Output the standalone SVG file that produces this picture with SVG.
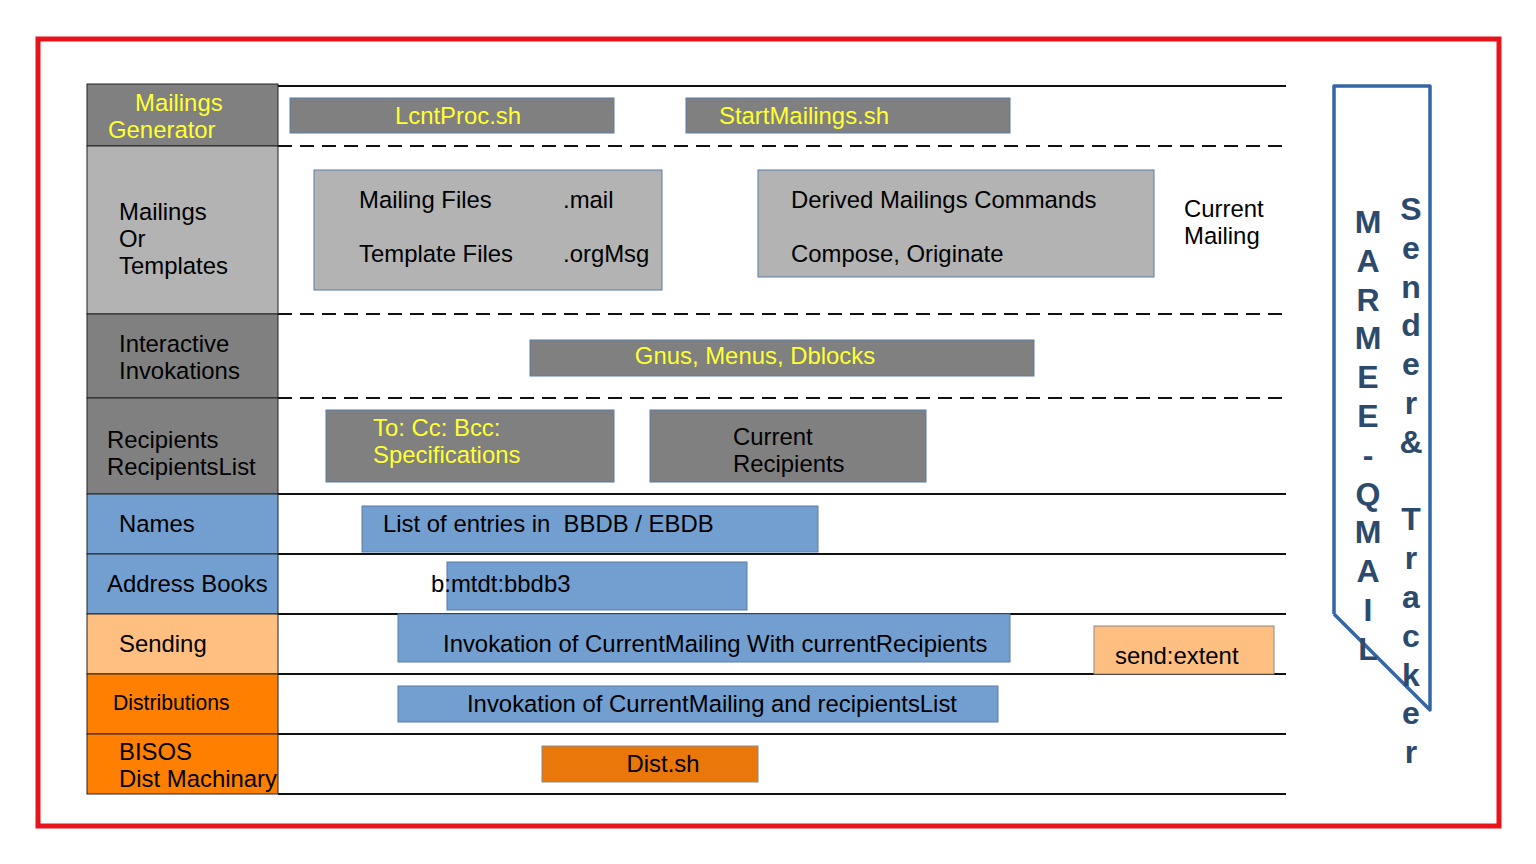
<svg xmlns="http://www.w3.org/2000/svg" width="1536" height="864" viewBox="0 0 1536 864">
  <style>
    text { font-family: "Liberation Sans", Arial, sans-serif; font-size: 23.9px; fill: #000; white-space: pre; }
    .yel { fill: #ffff33; }
    .mid { text-anchor: middle; }
    .cell { stroke: #222; stroke-width: 1; }
    .dark { fill: #808080; }
    .light { fill: #b3b3b3; }
    .blue { fill: #729fcf; }
    .peach { fill: #ffbf80; }
    .orange { fill: #ff8000; }
    .box { stroke: #5a7ba6; stroke-width: 1; }
    .rule { stroke: #111; stroke-width: 2; fill: none; }
    .dash { stroke-dasharray: 14 8; }
    .vert { font-size: 32px; font-weight: bold; fill: #2c4a6b; text-anchor: middle; }
  </style>

  <!-- outer frame -->
  <rect x="38" y="39" width="1461" height="787" fill="#fff" stroke="#e8141b" stroke-width="5"/>

  <!-- row separators -->
  <g id="connectors">
    <line class="rule" x1="278" y1="86" x2="1286" y2="86"/>
    <line class="rule dash" x1="278" y1="146" x2="1286" y2="146"/>
    <line class="rule dash" x1="278" y1="314" x2="1286" y2="314"/>
    <line class="rule dash" x1="278" y1="398" x2="1286" y2="398"/>
    <line class="rule" x1="278" y1="494" x2="1286" y2="494"/>
    <line class="rule" x1="278" y1="554" x2="1286" y2="554"/>
    <line class="rule" x1="278" y1="614" x2="1286" y2="614"/>
    <line class="rule" x1="278" y1="674" x2="1286" y2="674"/>
    <line class="rule" x1="278" y1="734" x2="1286" y2="734"/>
    <line class="rule" x1="278" y1="794" x2="1286" y2="794"/>
  </g>

  <!-- layer labels -->
  <g id="layer-generator">
    <rect class="cell dark" x="87" y="84" width="191" height="62"/>
    <text class="yel" x="135" y="111">Mailings</text>
    <text class="yel" x="108" y="138">Generator</text>
  </g>
  <g id="layer-templates">
    <rect class="cell light" x="87" y="146" width="191" height="168"/>
    <text x="119" y="220">Mailings</text>
    <text x="119" y="247">Or</text>
    <text x="119" y="274">Templates</text>
  </g>
  <g id="layer-interactive">
    <rect class="cell dark" x="87" y="314" width="191" height="84"/>
    <text x="119" y="352">Interactive</text>
    <text x="119" y="379">Invokations</text>
  </g>
  <g id="layer-recipients">
    <rect class="cell dark" x="87" y="398" width="191" height="96"/>
    <text x="107" y="448">Recipients</text>
    <text x="107" y="475">RecipientsList</text>
  </g>
  <g id="layer-names">
    <rect class="cell blue" x="87" y="494" width="191" height="60"/>
    <text x="119" y="532">Names</text>
  </g>
  <g id="layer-addressbooks">
    <rect class="cell blue" x="87" y="554" width="191" height="60"/>
    <text x="107" y="592">Address Books</text>
  </g>
  <g id="layer-sending">
    <rect class="cell peach" x="87" y="614" width="191" height="60"/>
    <text x="119" y="652">Sending</text>
  </g>
  <g id="layer-distributions">
    <rect class="cell orange" x="87" y="674" width="191" height="60"/>
    <text x="113" y="710" style="font-size:21.2px">Distributions</text>
  </g>
  <g id="layer-bisos">
    <rect class="cell orange" x="87" y="734" width="191" height="60"/>
    <text x="119" y="760">BISOS</text>
    <text x="119" y="787">Dist Machinary</text>
  </g>

  <!-- component boxes -->
  <g id="lcntproc">
    <rect class="box dark" x="290" y="98" width="324" height="35"/>
    <text class="yel mid" x="458" y="124">LcntProc.sh</text>
  </g>
  <g id="startmailings">
    <rect class="box dark" x="686" y="98" width="324" height="35"/>
    <text class="yel" x="719" y="124">StartMailings.sh</text>
  </g>
  <g id="mailing-files">
    <rect class="box light" x="314" y="170" width="348" height="120"/>
    <text x="359" y="208">Mailing Files</text>
    <text x="563" y="208">.mail</text>
    <text x="359" y="262">Template Files</text>
    <text x="563" y="262">.orgMsg</text>
  </g>
  <g id="derived-commands">
    <rect class="box light" x="758" y="170" width="396" height="107"/>
    <text x="791" y="208">Derived Mailings Commands</text>
    <text x="791" y="262">Compose, Originate</text>
  </g>
  <g id="current-mailing">
    <text x="1184" y="217">Current</text>
    <text x="1184" y="244">Mailing</text>
  </g>
  <g id="gnus">
    <rect class="box dark" x="530" y="340" width="504" height="36"/>
    <text class="yel mid" x="755" y="364">Gnus, Menus, Dblocks</text>
  </g>
  <g id="to-cc-bcc">
    <rect class="box dark" x="326" y="410" width="288" height="72"/>
    <text class="yel" x="373" y="436">To: Cc: Bcc:</text>
    <text class="yel" x="373" y="463">Specifications</text>
  </g>
  <g id="current-recipients">
    <rect class="box dark" x="650" y="410" width="276" height="72"/>
    <text x="733" y="445">Current</text>
    <text x="733" y="472">Recipients</text>
  </g>
  <g id="bbdb-entries">
    <rect class="box blue" x="362" y="506" width="456" height="46"/>
    <text x="383" y="532">List of entries in  BBDB / EBDB</text>
  </g>
  <g id="mtdt-bbdb3">
    <rect class="box blue" x="447" y="562" width="300" height="48"/>
    <text x="431" y="592">b:mtdt:bbdb3</text>
  </g>
  <g id="invoke-current">
    <rect class="box blue" x="398" y="614" width="612" height="48"/>
    <text x="443" y="652">Invokation of CurrentMailing With currentRecipients</text>
  </g>
  <g id="send-extent">
    <rect x="1094" y="626" width="180" height="48" fill="#ffbf80" stroke="#888" stroke-width="1"/>
    <text x="1115" y="664">send:extent</text>
  </g>
  <g id="invoke-list">
    <rect class="box blue" x="398" y="686" width="600" height="36"/>
    <text class="mid" x="712" y="712">Invokation of CurrentMailing and recipientsList</text>
  </g>
  <g id="dist-sh">
    <rect x="542" y="746" width="216" height="36" fill="#ea770a" stroke="#8a8a8a" stroke-width="1"/>
    <text class="mid" x="663" y="772">Dist.sh</text>
  </g>

  <!-- side banner -->
  <g id="marmee-banner">
    <polyline points="1334,614 1334,86 1430,86 1430,710 1334,614" fill="none" stroke="#3465a4" stroke-width="3.5" stroke-linejoin="round"/>
    <text class="vert" x="1368" y="233">M<tspan x="1368" dy="38.8">A</tspan><tspan x="1368" dy="38.8">R</tspan><tspan x="1368" dy="38.8">M</tspan><tspan x="1368" dy="38.8">E</tspan><tspan x="1368" dy="38.8">E</tspan><tspan x="1368" dy="38.8">-</tspan><tspan x="1368" dy="38.8">Q</tspan><tspan x="1368" dy="38.8">M</tspan><tspan x="1368" dy="38.8">A</tspan><tspan x="1368" dy="38.8">I</tspan><tspan x="1368" dy="38.8">L</tspan></text>
    <text class="vert" x="1411" y="220">S<tspan x="1411" dy="38.8">e</tspan><tspan x="1411" dy="38.8">n</tspan><tspan x="1411" dy="38.8">d</tspan><tspan x="1411" dy="38.8">e</tspan><tspan x="1411" dy="38.8">r</tspan><tspan x="1411" dy="38.8">&amp;</tspan><tspan x="1411" dy="77.6">T</tspan><tspan x="1411" dy="38.8">r</tspan><tspan x="1411" dy="38.8">a</tspan><tspan x="1411" dy="38.8">c</tspan><tspan x="1411" dy="38.8">k</tspan><tspan x="1411" dy="38.8">e</tspan><tspan x="1411" dy="38.8">r</tspan></text>
  </g>
</svg>
